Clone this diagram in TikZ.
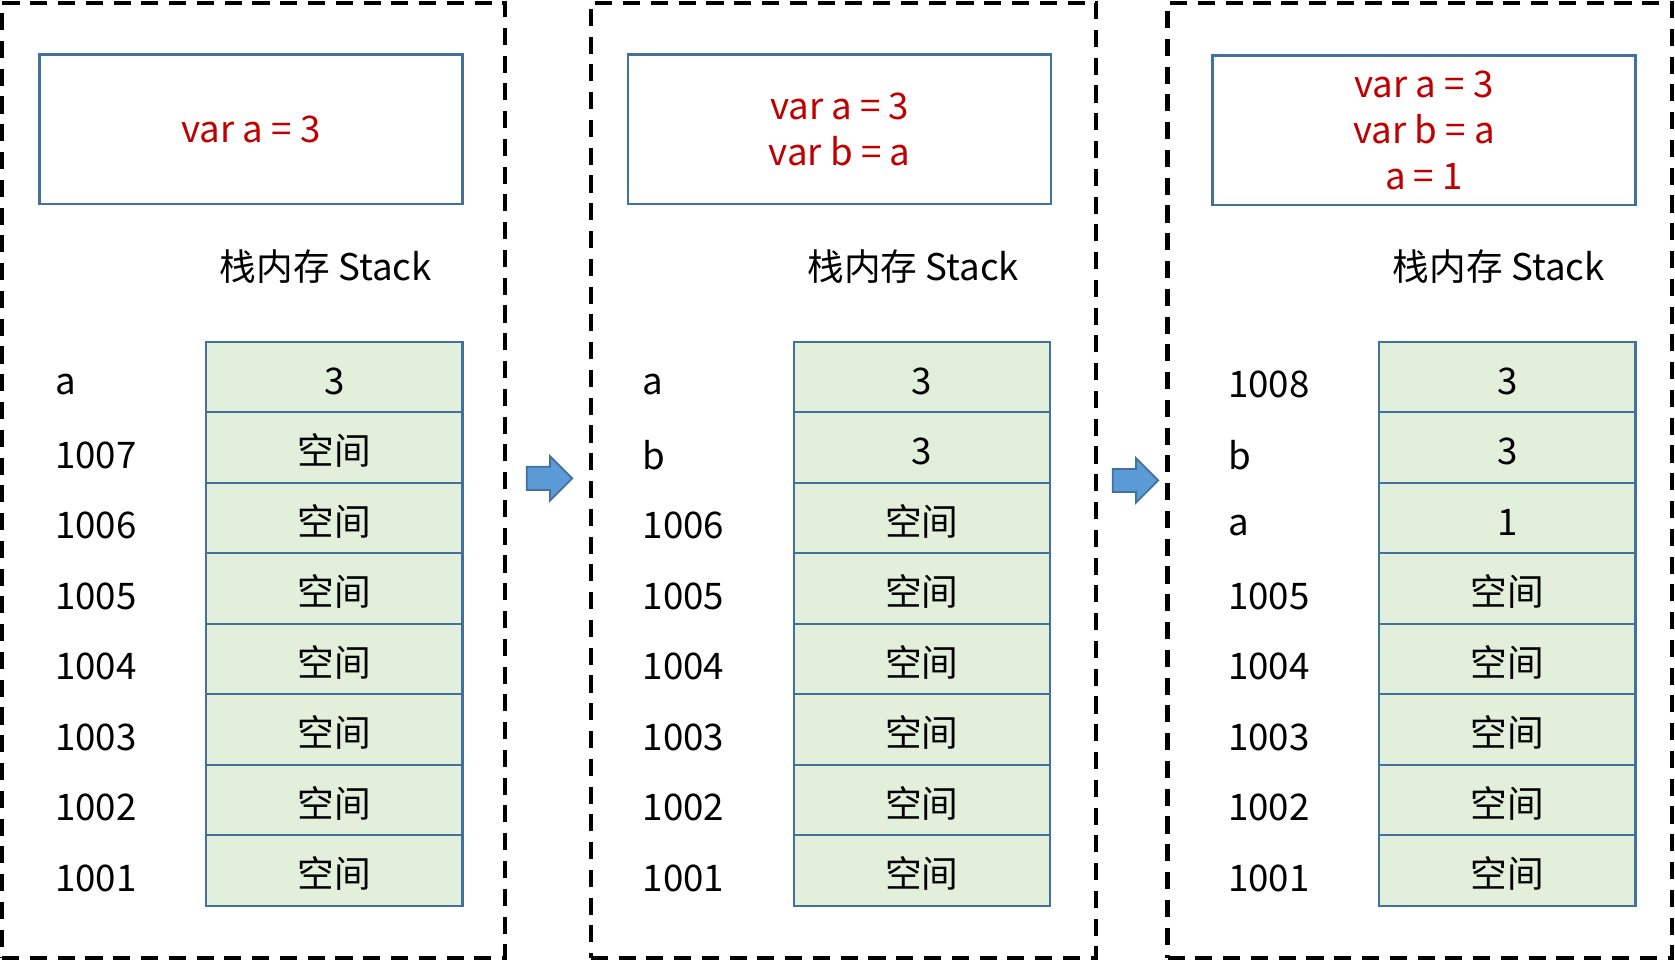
\documentclass[tikz,border=0pt]{standalone}
\usepackage{fontspec}
\setmainfont{Noto Sans CJK SC}
\usepackage{tikz}
\usetikzlibrary{shapes, arrows, positioning, calc}
\definecolor{boxblue}{HTML}{41719C}
\definecolor{codered}{HTML}{C00000}
\definecolor{cellgreen}{HTML}{E2EFDA}
\definecolor{arrowblue}{HTML}{5B9BD5}

\begin{document}
\begin{tikzpicture}[
        x=0.3pt, y=-0.3pt,
        font=\fontsize{10.3}{12.9}\selectfont,
        panel/.style={
            rectangle, draw=black, line width=1.2pt, dash pattern=on 4.8pt off 3pt,
            minimum width=141.3pt, minimum height=268.3pt
        },
        codebox/.style={
            rectangle, draw=boxblue, line width=0.6pt, text=codered,
            minimum width=118.8pt, minimum height=42pt, align=center
        },
        stackcell/.style={
            rectangle, draw=boxblue, line width=0.6pt, fill=cellgreen,
            minimum width=72pt, minimum height=19.8pt, inner sep=0pt,
            text height=9.6pt, text depth=0pt
        },
        addr/.style={anchor=west, inner sep=0pt},
        movearrow/.style={
            single arrow, draw=boxblue, fill=arrowblue, line width=0.5pt,
            text height=6pt, text depth=0pt, inner sep=0pt,
            minimum height=12.8pt, single arrow head extend=3pt
        }
    ]
        \useasboundingbox (0,0) rectangle (1568,900);

        % Frames
        \node[panel] (frame1) at (237.5,449.8) {};
        \node[panel, minimum width=141.9pt] (frame2) at (789.5,449.8) {};
        \node[panel, minimum width=141.6pt] (frame3) at (1329,449.8) {};

        % Step 1
        \node[codebox] (src1) at (235,121) {var a = 3};
        \node (title1) at (305,250) {栈内存 Stack};
        \foreach \val/\lab [count=\i] in {3/a, 空间/1007, 空间/1006, 空间/1005,
                空间/1004, 空间/1003, 空间/1002, 空间/1001} {
            \node[stackcell] (s1-\i) at (313,{287+66*\i}) {\val};
            \node[addr] (l1-\i) at ($(s1-\i.center)+(-262,7)$) {\lab};
        }

        % Step 2
        \node[codebox] (src2) at (786,121) {var a = 3\\var b = a};
        \node (title2) at (855,250) {栈内存 Stack};
        \foreach \val/\lab [count=\i] in {3/a, 3/b, 空间/1006, 空间/1005,
                空间/1004, 空间/1003, 空间/1002, 空间/1001} {
            \node[stackcell] (s2-\i) at (863,{287+66*\i}) {\val};
            \node[addr] (l2-\i) at ($(s2-\i.center)+(-262,7)$) {\lab};
        }

        % Step 3
        \node[codebox] (src3) at (1333,122) {var a = 3\\var b = a\\a = 1};
        \node (title3) at (1403,250) {栈内存 Stack};
        \foreach \val/\lab [count=\i] in {3/1008, 3/b, 1/a, 空间/1005,
                空间/1004, 空间/1003, 空间/1002, 空间/1001} {
            \node[stackcell] (s3-\i) at (1411,{287+66*\i}) {\val};
            \node[addr] (l3-\i) at ($(s3-\i.center)+(-262,7)$) {\lab};
        }

        % Arrows between frames
        \node[movearrow] (go1) at ($(frame1.east)!0.5!(frame2.west)+(-4,-2)$) {};
        \node[movearrow] (go2) at ($(frame2.east)!0.5!(frame3.west)+(-2,0)$) {};

    \end{tikzpicture}
\end{document}
